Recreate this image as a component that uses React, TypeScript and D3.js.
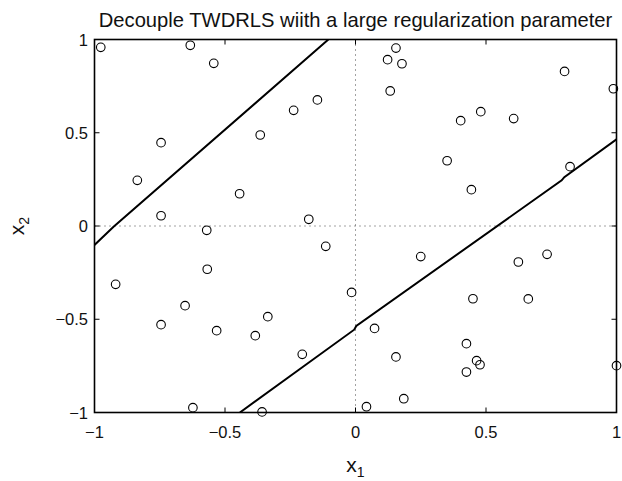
import React from "react";
import * as d3 from "d3";

const pointsX = [-0.976, -0.633, -0.543, -0.745, -0.836, -0.745, -0.365, -0.444, -0.237, -0.146, -0.179, -0.57, -0.114, -0.568, -0.919, -0.653, -0.745, -0.532, -0.336, -0.384, -0.204, -0.623, -0.358, 0.155, 0.123, 0.178, 0.133, 0.403, 0.48, 0.606, 0.801, 0.988, 0.351, 0.444, 0.822, -0.015, 0.25, 0.073, 0.155, 0.042, 0.185, 0.624, 0.734, 0.45, 0.662, 0.425, 0.464, 0.477, 0.425, 1.0];
const pointsY = [0.958, 0.969, 0.872, 0.447, 0.245, 0.055, 0.488, 0.173, 0.62, 0.676, 0.036, -0.023, -0.109, -0.232, -0.313, -0.427, -0.529, -0.561, -0.486, -0.588, -0.688, -0.974, -0.997, 0.954, 0.892, 0.87, 0.724, 0.565, 0.613, 0.576, 0.829, 0.736, 0.35, 0.195, 0.318, -0.356, -0.164, -0.549, -0.702, -0.969, -0.926, -0.193, -0.152, -0.39, -0.391, -0.631, -0.722, -0.744, -0.783, -0.749];

const upperLineX = [-1, -0.927, -0.104];
const upperLineY = [-0.102, -0.004, 1.0];
const lowerLineX = [-0.443, -0.005, 0.003, 0.79, 0.8, 1.0];
const lowerLineY = [-1, -0.556, -0.536, 0.245, 0.262, 0.465];

const xTicks = [-1, -0.5, 0, 0.5, 1];
const yTicks = [-1, -0.5, 0, 0.5, 1];
const tickLabel = (v: number) => (v < 0 ? "\u2212" + String(Math.abs(v)) : String(v));

const title = "Decouple TWDRLS wiith a large regularization parameter";

export default function App() {
  const W = 622, H = 481;
  const left = 94.5, right = 616.5, top = 39.5, bottom = 412.5;
  const x = d3.scaleLinear().domain([-1, 1]).range([left, right]);
  const y = d3.scaleLinear().domain([-1, 1]).range([bottom, top]);
  const line = d3.line<[number, number]>().x((d) => x(d[0])).y((d) => y(d[1]));
  const upper: [number, number][] = upperLineX.map((v, i) => [v, upperLineY[i]]);
  const lower: [number, number][] = lowerLineX.map((v, i) => [v, lowerLineY[i]]);
  const font = "'Liberation Sans', Arial, Helvetica, sans-serif";
  const tl = 5;
  return (
    <svg width={W} height={H} style={{ position: "absolute", left: 0, top: 0, background: "#fff" }} fontFamily={font}>
      <rect width={W} height={H} fill="#fff" />
      <defs>
        <clipPath id="plot">
          <rect x={left} y={top} width={right - left} height={bottom - top} />
        </clipPath>
      </defs>
      <line x1={x(0)} x2={x(0)} y1={top} y2={bottom} stroke="#444" strokeWidth={1} strokeDasharray="1,4" />
      <line x1={left} x2={right} y1={y(0)} y2={y(0)} stroke="#444" strokeWidth={1} strokeDasharray="1,4" />
      <g clipPath="url(#plot)">
        <path d={line(upper) || ""} fill="none" stroke="#000" strokeWidth={2} />
        <path d={line(lower) || ""} fill="none" stroke="#000" strokeWidth={2} />
      </g>
      {pointsX.map((px, i) => (
        <circle key={i} cx={x(px)} cy={y(pointsY[i])} r={4.3} fill="none" stroke="#000" strokeWidth={1.1} />
      ))}
      {xTicks.map((t) => (
        <g key={"xt" + t}>
          <line x1={x(t)} x2={x(t)} y1={bottom} y2={bottom - tl} stroke="#000" strokeWidth={1} />
          <line x1={x(t)} x2={x(t)} y1={top} y2={top + tl} stroke="#000" strokeWidth={1} />
          <text x={x(t)} y={438} textAnchor="middle" fontSize={16.5} fill="#111">{tickLabel(t)}</text>
        </g>
      ))}
      {yTicks.map((t) => (
        <g key={"yt" + t}>
          <line x1={left} x2={left + tl} y1={y(t)} y2={y(t)} stroke="#000" strokeWidth={1} />
          <line x1={right} x2={right - tl} y1={y(t)} y2={y(t)} stroke="#000" strokeWidth={1} />
          <text x={88} y={y(t) + 6} textAnchor="end" fontSize={16.5} fill="#111">{tickLabel(t)}</text>
        </g>
      ))}
      <rect x={left} y={top} width={right - left} height={bottom - top} fill="none" stroke="#000" strokeWidth={1.6} />
      <text x={(left + right) / 2} y={27} textAnchor="middle" fontSize={20.2} fill="#111">{title}</text>
      <text x={(left + right) / 2} y={472} textAnchor="middle" fontSize={21} fill="#111">
        x<tspan fontSize={14} dy={5}>1</tspan>
      </text>
      <text transform={`translate(24,${(top + bottom) / 2}) rotate(-90)`} textAnchor="middle" fontSize={21} fill="#111">
        x<tspan fontSize={14} dy={5}>2</tspan>
      </text>
    </svg>
  );
}
